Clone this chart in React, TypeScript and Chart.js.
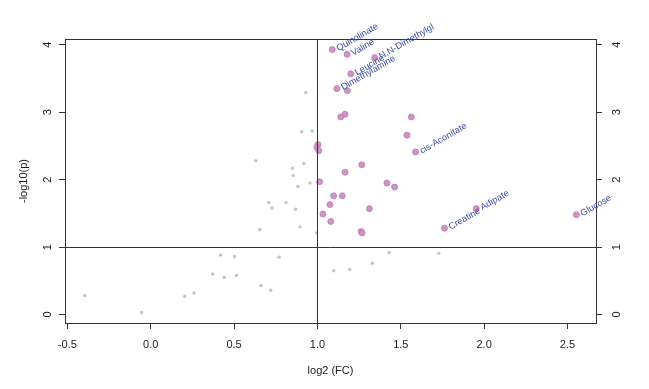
import { useEffect, useRef } from 'react';
import { Chart, registerables } from 'chart.js';

Chart.register(...registerables);

// ---- data ----
const xTicks = [-0.5, 0, 0.5, 1, 1.5, 2, 2.5];
const yTicks = [0, 1, 2, 3, 4];

const grayFC = [0.93, 0.905, 0.969, 0.631, 0.919, 0.85, 0.854, 0.955, 0.883, 0.708, 0.728, 0.812, 0.869, 0.895, 0.654, 0.995, 0.419, 0.503, 0.77, 0.372, 0.441, 0.515, 0.661, 0.72, -0.396, 0.204, 0.26, -0.055, 1.43, 1.728, 1.098, 1.194, 1.33];
const grayP = [3.29, 2.71, 2.72, 2.28, 2.24, 2.17, 2.06, 1.95, 1.9, 1.66, 1.58, 1.66, 1.56, 1.3, 1.26, 1.21, 0.88, 0.86, 0.85, 0.6, 0.55, 0.58, 0.43, 0.36, 0.28, 0.27, 0.32, 0.03, 0.92, 0.91, 0.65, 0.67, 0.76];

const sigFC = [1.089, 1.178, 1.344, 1.2, 1.117, 1.18, 1.14, 1.166, 1.563, 1.537, 1.589, 1.003, 0.997, 1.008, 1.266, 1.166, 1.013, 1.417, 1.463, 1.097, 1.149, 1.075, 1.312, 1.033, 1.08, 1.262, 1.268, 1.762, 1.953, 2.553];
const sigP = [3.93, 3.86, 3.81, 3.57, 3.35, 3.32, 2.93, 2.97, 2.93, 2.66, 2.41, 2.52, 2.48, 2.43, 2.22, 2.11, 1.97, 1.95, 1.89, 1.76, 1.76, 1.63, 1.57, 1.49, 1.38, 1.23, 1.21, 1.28, 1.57, 1.48];
const sigNames = ['Quinolinate', 'Valine', 'N,N-Dimethylgl', 'Leucine', 'Dimethylamine', '', '', '', '', '', 'cis-Aconitate', '', '', '', '', '', '', '', '', '', '', '', '', '', '', '', '', 'Creatine', 'Adipate', 'Glucose'];

const fcThreshold = 1;
const pThreshold = 1;

const FONT = '"Liberation Sans", Arial, Helvetica, sans-serif';
const TEXT = '#222';
const LINE = '#333';

const overlay = {
  id: 'overlay',
  afterDatasetsDraw(chart: any) {
    const { ctx, chartArea: a, scales } = chart;
    const x = scales.x;
    const y = scales.y;
    ctx.save();
    ctx.strokeStyle = LINE;
    ctx.lineWidth = 1;
    const vx = Math.round(x.getPixelForValue(fcThreshold)) + 0.5;
    const hy = Math.round(y.getPixelForValue(pThreshold)) + 0.5;
    ctx.beginPath();
    ctx.moveTo(vx, a.top);
    ctx.lineTo(vx, a.bottom);
    ctx.moveTo(a.left, hy);
    ctx.lineTo(a.right, hy);
    ctx.stroke();
    ctx.strokeRect(Math.round(a.left) + 0.5, Math.round(a.top) + 0.5, Math.round(a.right - a.left), Math.round(a.bottom - a.top));
    ctx.restore();
  },
  afterDraw(chart: any) {
    const { ctx, scales } = chart;
    const x = scales.x;
    const y = scales.y;
    ctx.save();
    ctx.font = `9.2px ${FONT}`;
    ctx.fillStyle = '#3a4bb0';
    ctx.textAlign = 'left';
    ctx.textBaseline = 'middle';
    sigNames.forEach((name, i) => {
      if (!name) return;
      const px = x.getPixelForValue(sigFC[i]);
      const py = y.getPixelForValue(sigP[i]);
      ctx.save();
      ctx.translate(px + 5, py - 0.5);
      ctx.rotate(-Math.PI / 6);
      ctx.fillText(name, 0, 0);
      ctx.restore();
    });
    ctx.restore();
  },
};

export default function App() {
  const ref = useRef<HTMLCanvasElement | null>(null);
  useEffect(() => {
    document.body.style.margin = '0';
    const tickFont = { family: FONT, size: 11 };
    const yAxisCommon = {
      type: 'linear' as const,
      min: -0.126,
      max: 4.086,
      afterBuildTicks: (s: any) => {
        s.ticks = yTicks.map((v) => ({ value: v }));
      },
      border: { display: false },
      grid: { drawOnChartArea: false, drawTicks: true, tickLength: 6, color: LINE },
    };
    const chart = new Chart(ref.current as HTMLCanvasElement, {
      type: 'scatter',
      data: {
        datasets: [
          {
            data: grayFC.map((v, i) => ({ x: v, y: grayP[i] })),
            pointRadius: 1.7,
            backgroundColor: '#c4c4c4',
            borderWidth: 0,
          },
          {
            data: sigFC.map((v, i) => ({ x: v, y: sigP[i] })),
            pointRadius: 3,
            backgroundColor: '#cf93c9',
            borderColor: '#bb7bb4',
            borderWidth: 0.8,
          },
        ],
      },
      options: {
        animation: false,
        responsive: true,
        maintainAspectRatio: false,
        events: [],
        layout: { padding: { top: 39, left: 0, right: 0, bottom: 0 } },
        plugins: { legend: { display: false }, tooltip: { enabled: false } },
        scales: {
          x: {
            type: 'linear',
            position: 'bottom',
            min: -0.514,
            max: 2.671,
            afterBuildTicks: (s: any) => {
              s.ticks = xTicks.map((v) => ({ value: v }));
            },
            afterFit: (s: any) => {
              s.height = 66;
            },
            border: { display: false },
            grid: { drawOnChartArea: false, drawTicks: true, tickLength: 6, color: LINE },
            ticks: {
              padding: 9,
              color: TEXT,
              font: tickFont,
              autoSkip: false,
              maxRotation: 0,
              minRotation: 0,
              callback: (v: any) => Number(v).toFixed(1),
            },
            title: {
              display: true,
              text: 'log2 (FC)',
              color: TEXT,
              font: tickFont,
              padding: { top: 0, bottom: 11 },
            },
          },
          y: {
            ...yAxisCommon,
            position: 'left',
            afterFit: (s: any) => {
              s.width = 65;
            },
            ticks: {
              padding: 8,
              color: TEXT,
              font: tickFont,
              autoSkip: false,
              minRotation: 90,
              maxRotation: 90,
              crossAlign: 'center',
              callback: (v: any) => String(v),
            },
            title: {
              display: true,
              text: '-log10(p)',
              color: TEXT,
              font: tickFont,
              padding: { top: 17, bottom: 0 },
            },
          },
          y2: {
            ...yAxisCommon,
            position: 'right',
            afterFit: (s: any) => {
              s.width = 53;
            },
            ticks: {
              padding: 12,
              color: TEXT,
              font: tickFont,
              autoSkip: false,
              minRotation: 90,
              maxRotation: 90,
              crossAlign: 'center',
              callback: (v: any) => String(v),
            },
          },
        },
      },
      plugins: [overlay],
    });
    return () => chart.destroy();
  }, []);
  return (
    <div style={{ width: 649, height: 389, position: 'relative' }}>
      <canvas ref={ref} />
    </div>
  );
}
